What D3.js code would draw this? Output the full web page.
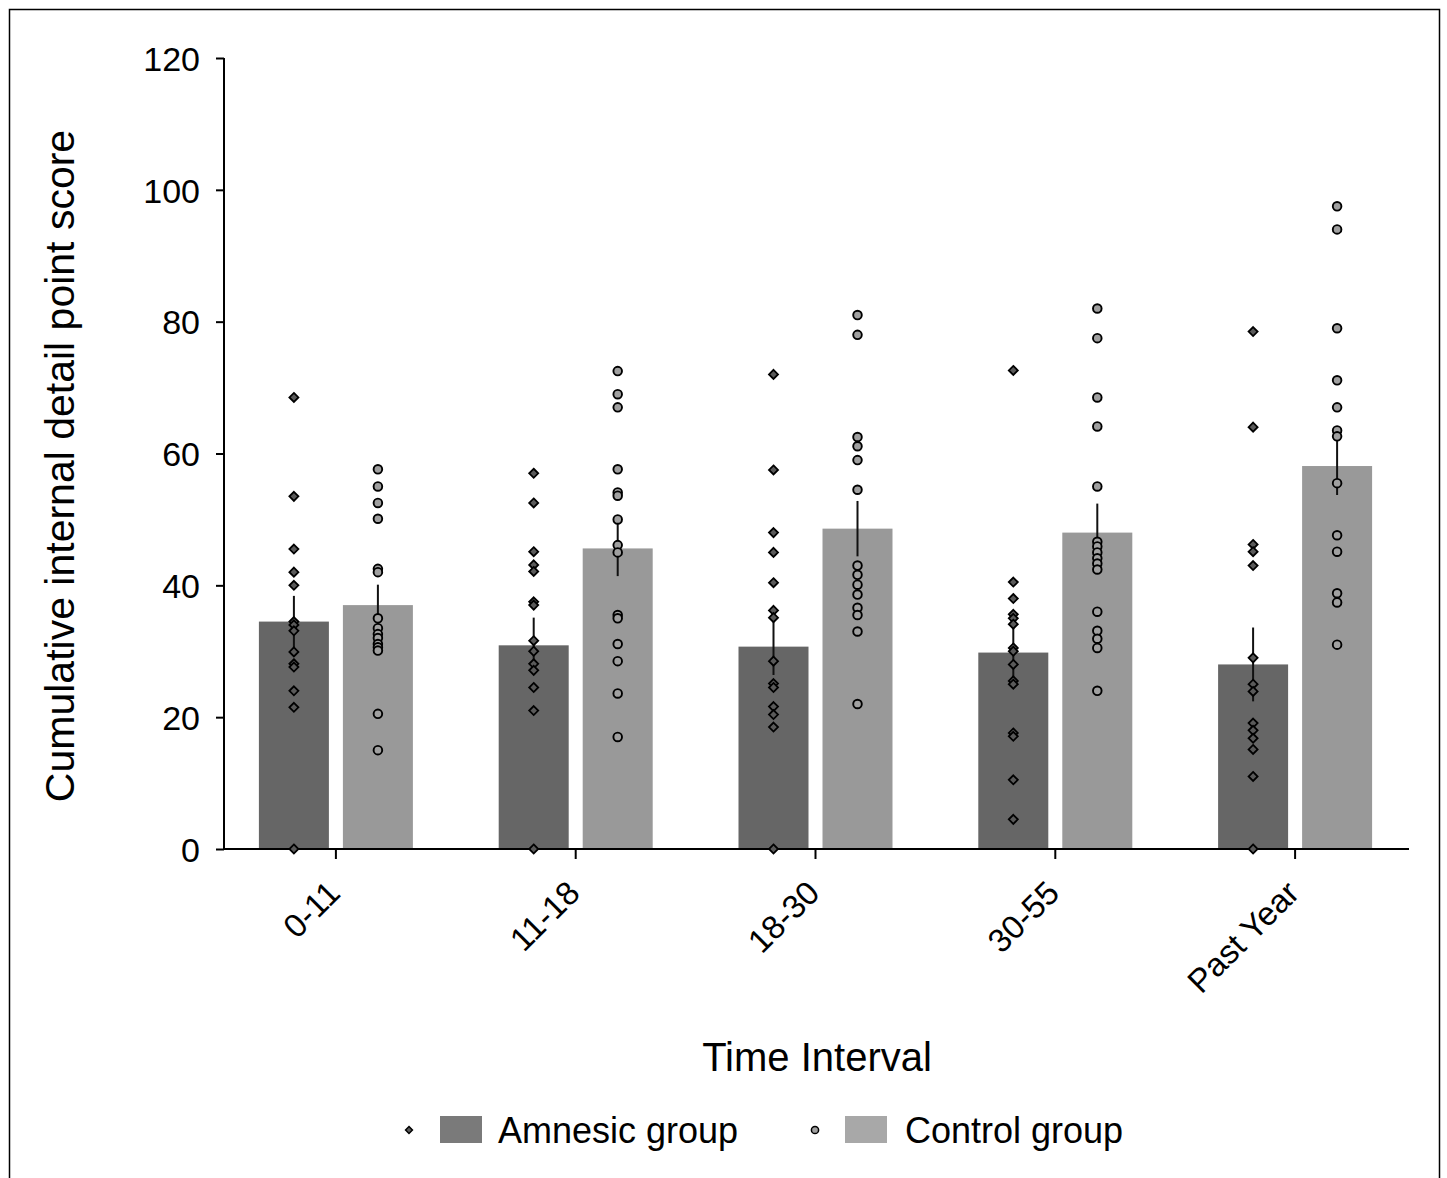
<!DOCTYPE html>
<html>
<head>
<meta charset="utf-8">
<script src="https://cdn.jsdelivr.net/npm/d3@7/dist/d3.min.js"></script>
<style>
  body { margin: 0; background: #fff; }
  svg text { font-family: "Liberation Sans", Arial, Helvetica, sans-serif; fill: #000; }
</style>
</head>
<body>
<svg id="chart" width="1447" height="1178"></svg>
<script>
// data
var categories = ['0-11', '11-18', '18-30', '30-55', 'Past Year'];
var yTicks = [0, 20, 40, 60, 80, 100, 120];

var amnesicMean = [34.5, 30.9, 30.7, 29.8, 28.0];
var amnesicSem = [3.9, 4.2, 4.3, 4.3, 5.6];
var controlMean = [37.0, 45.6, 48.6, 48.0, 58.1];
var controlSem = [3.1, 4.2, 4.2, 4.4, 4.4];

var amnesicPoints = [
  [68.5, 53.5, 45.5, 42.0, 40.0, 34.5, 34.0, 33.1, 29.9, 28.1, 27.6, 24.0, 21.5, 0],
  [57.0, 52.5, 45.1, 43.1, 42.1, 37.5, 37.0, 31.6, 30.0, 28.1, 27.1, 24.5, 21.0, 0],
  [72.0, 57.5, 48.0, 45.0, 40.4, 36.2, 35.1, 28.5, 25.1, 24.5, 21.6, 20.4, 18.5, 0],
  [72.6, 40.5, 38.0, 35.6, 35.0, 34.1, 30.5, 30.0, 28.0, 25.5, 25.0, 17.6, 17.1, 10.5, 4.5],
  [78.5, 64.0, 46.2, 45.1, 43.0, 29.0, 25.0, 23.9, 19.1, 18.0, 16.8, 15.1, 11.0, 0]
];
var controlPoints = [
  [57.6, 55.0, 52.5, 50.1, 42.5, 42.0, 35.0, 33.5, 32.6, 32.0, 31.1, 30.6, 30.1, 20.5, 15.0],
  [72.5, 69.0, 67.0, 57.6, 54.1, 53.6, 50.0, 46.1, 45.0, 35.5, 35.0, 31.1, 28.5, 23.6, 17.0],
  [81.0, 78.0, 62.5, 61.1, 59.0, 54.5, 43.0, 41.6, 40.1, 38.6, 36.6, 35.5, 33.0, 22.0],
  [82.0, 77.5, 68.5, 64.1, 55.0, 46.6, 45.9, 45.0, 44.1, 43.3, 42.4, 36.0, 33.1, 31.9, 30.5, 24.0],
  [97.5, 94.0, 79.0, 71.1, 67.0, 63.5, 62.6, 55.5, 47.6, 45.1, 38.8, 37.4, 31.0]
];

var groups = [
  { name: 'Amnesic group', mean: amnesicMean, sem: amnesicSem, points: amnesicPoints,
    bar: '#666666', swatch: '#7a7a7a', dot: '#5a5a5a', shape: 'diamond', offset: -42 },
  { name: 'Control group', mean: controlMean, sem: controlSem, points: controlPoints,
    bar: '#999999', swatch: '#a8a8a8', dot: '#a0a0a0', shape: 'circle', offset: 42 }
];

var svg = d3.select('#chart');
var axisLeft = 224, axisRight = 1409, axisTop = 58, axisBottom = 849;
var barW = 70;

// outer frame (bottom edge falls off the picture)
svg.append('rect')
  .attr('x', 9.5).attr('y', 9.5)
  .attr('width', 1430).attr('height', 1200)
  .attr('fill', 'none').attr('stroke', '#000').attr('stroke-width', 1.5);

var x = d3.scaleBand().domain(categories).range([216, 1415]).padding(0);
var y = d3.scaleLinear().domain([0, 120]).range([axisBottom, axisTop]);
function cx(c) { return x(c) + x.bandwidth() / 2; }

// bars
groups.forEach(function(g){
  svg.append('g').selectAll('rect')
    .data(categories)
    .enter().append('rect')
    .attr('x', function(c){ return cx(c) + g.offset - barW / 2; })
    .attr('width', barW)
    .attr('y', function(c, i){ return y(g.mean[i]); })
    .attr('height', function(c, i){ return y(0) - y(g.mean[i]); })
    .attr('fill', g.bar);
});

// y axis
var yAxis = svg.append('g')
  .attr('transform', 'translate(' + axisLeft + ',0)')
  .call(d3.axisLeft(y).tickValues(yTicks).tickSize(8).tickPadding(16));
yAxis.select('.domain').attr('stroke-width', 2).attr('d', 'M0,' + axisTop + 'V' + axisBottom);
yAxis.selectAll('.tick line').attr('stroke-width', 2);
yAxis.selectAll('.tick text')
  .style('font-size', '34px')
  .attr('dy', '0.36em');

// x axis
var xAxis = svg.append('g')
  .attr('transform', 'translate(0,' + axisBottom + ')')
  .call(d3.axisBottom(x).tickSize(10).tickFormat(''));
xAxis.select('.domain').attr('stroke-width', 2).attr('d', 'M' + axisLeft + ',0H' + axisRight);
xAxis.selectAll('.tick line').attr('stroke-width', 2);

svg.append('g').selectAll('text')
  .data(categories)
  .enter().append('text')
  .attr('transform', function(c){ return 'translate(' + (cx(c) + 6) + ',' + (axisBottom + 46) + ') rotate(-45)'; })
  .attr('text-anchor', 'end')
  .style('font-size', '33px')
  .text(function(c){ return c; });

// error bars
groups.forEach(function(g){
  svg.append('g').selectAll('line')
    .data(categories)
    .enter().append('line')
    .attr('x1', function(c){ return cx(c) + g.offset; })
    .attr('x2', function(c){ return cx(c) + g.offset; })
    .attr('y1', function(c, i){ return y(g.mean[i] - g.sem[i]); })
    .attr('y2', function(c, i){ return y(g.mean[i] + g.sem[i]); })
    .attr('stroke', '#111').attr('stroke-width', 2);
});

// individual points
var diamond = d3.symbol().type(d3.symbolDiamond2).size(52);
groups.forEach(function(g){
  categories.forEach(function(c, i){
    var sel = svg.append('g').selectAll('.pt')
      .data(g.points[i])
      .enter();
    if (g.shape === 'diamond') {
      sel.append('path')
        .attr('d', diamond)
        .attr('transform', function(v){ return 'translate(' + (cx(c) + g.offset) + ',' + y(v) + ')'; })
        .attr('fill', g.dot).attr('stroke', '#000').attr('stroke-width', 1.8);
    } else {
      sel.append('circle')
        .attr('cx', cx(c) + g.offset)
        .attr('cy', function(v){ return y(v); })
        .attr('r', 4.3)
        .attr('fill', g.dot).attr('stroke', '#000').attr('stroke-width', 1.9);
    }
  });
});

// axis titles
svg.append('text')
  .attr('transform', 'translate(74,466) rotate(-90)')
  .attr('text-anchor', 'middle')
  .style('font-size', '41px')
  .text('Cumulative internal detail point score');

svg.append('text')
  .attr('x', 817).attr('y', 1071)
  .attr('text-anchor', 'middle')
  .style('font-size', '40px')
  .text('Time Interval');

// legend
var legendX = [409, 815];
var legendTextX = [498, 905];
var swatchX = [440, 845];
groups.forEach(function(g, i){
  var lg = svg.append('g');
  if (g.shape === 'diamond') {
    lg.append('path')
      .attr('d', d3.symbol().type(d3.symbolDiamond2).size(30))
      .attr('transform', 'translate(' + legendX[i] + ',1130)')
      .attr('fill', g.dot).attr('stroke', '#000').attr('stroke-width', 1.5);
  } else {
    lg.append('circle')
      .attr('cx', legendX[i]).attr('cy', 1130).attr('r', 3.6)
      .attr('fill', g.dot).attr('stroke', '#000').attr('stroke-width', 1.5);
  }
  lg.append('rect')
    .attr('x', swatchX[i]).attr('y', 1116)
    .attr('width', 42).attr('height', 27)
    .attr('fill', g.swatch);
  lg.append('text')
    .attr('x', legendTextX[i]).attr('y', 1143)
    .style('font-size', '36px')
    .text(g.name);
});
</script>
</body>
</html>
